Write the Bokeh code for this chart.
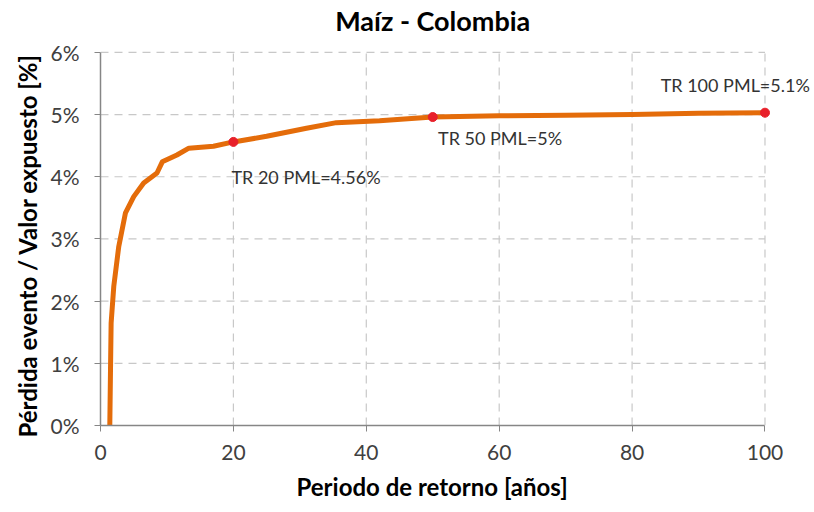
from bokeh.plotting import figure
from bokeh.models import FixedTicker, PrintfTickFormatter, Range1d, Label, Title
from bokeh.embed import file_html
from bokeh.resources import INLINE

# Loss curve (return period in years vs. loss / exposed value in %)
periodo = [1.4, 1.5, 1.6, 2.0, 2.75, 3.76, 5.0, 6.5, 8.5, 9.3, 11.5, 13.3, 17, 20,
           25, 31, 35.5, 42, 50, 60, 70, 80, 90, 100]
perdida = [0, 0.85, 1.65, 2.24, 2.88, 3.42, 3.68, 3.9, 4.06, 4.24, 4.35, 4.46, 4.49, 4.56,
           4.65, 4.78, 4.87, 4.9, 4.96, 4.98, 4.99, 5.0, 5.02, 5.03]

# Highlighted points
tr_x = [20, 50, 100]
tr_y = [4.56, 4.96, 5.03]
tr_text = ["TR 20 PML=4.56%", "TR 50 PML=5%", "TR 100 PML=5.1%"]
lab_x = [19.7, 50.8, 84.3]
lab_y = [4.0, 4.62, 5.47]

x_ticks = [0, 20, 40, 60, 80, 100]
y_ticks = [0, 1, 2, 3, 4, 5, 6]

titulo = "Maíz - Colombia"
x_titulo = "Periodo de retorno [años]"
y_titulo = "Pérdida evento / Valor expuesto [%]"

FONT = "Lato"

# frame is extended above the 6% line and right of 100 so that texts are not clipped
p = figure(width=814, height=512, output_backend="svg", toolbar_location=None,
           x_range=Range1d(0, 107), y_range=Range1d(0, 6.834),
           min_border_left=100, min_border_right=3, min_border_top=0, min_border_bottom=86)
p.outline_line_color = None

for ax in (p.xaxis[0], p.yaxis[0]):
    ax.axis_line_color = "#868686"
    ax.axis_line_width = 1.5
    ax.major_tick_line_color = "#868686"
    ax.major_tick_in = 0
    ax.major_tick_out = 6
    ax.minor_tick_line_color = None
    ax.major_label_text_font = FONT
    ax.major_label_text_font_size = "21px"
    ax.major_label_text_color = "#404040"

p.xaxis.bounds = (x_ticks[0], x_ticks[-1])
p.yaxis.bounds = (y_ticks[0], y_ticks[-1])
p.xaxis.ticker = FixedTicker(ticks=x_ticks)
p.yaxis.ticker = FixedTicker(ticks=y_ticks)
p.yaxis.formatter = PrintfTickFormatter(format="%d%%")
p.xaxis.major_label_standoff = 13
p.yaxis.major_label_standoff = 15

# axis titles
p.add_layout(Title(text=x_titulo, align="left", offset=196, vertical_align="top",
                   text_font=FONT, text_font_size="24px", text_font_style="bold",
                   text_color="#000000", standoff=19), "below")
p.add_layout(Title(text=y_titulo, align="left", offset=-12, vertical_align="bottom",
                   text_font=FONT, text_font_size="24px", text_font_style="bold",
                   text_color="#000000", standoff=12), "left")

GRID_COLOR = "#C8C8C8"
GRID_DASH = "8 6"
p.xgrid[0].grid_line_color = None
p.ygrid[0].grid_line_color = None

# grid lines, limited to the axis extent
n = len(y_ticks) - 1
p.segment(x0=[x_ticks[0]] * n, x1=[x_ticks[-1]] * n, y0=y_ticks[1:], y1=y_ticks[1:],
          line_color=GRID_COLOR, line_dash=GRID_DASH, line_width=1.2)
m = len(x_ticks) - 1
p.segment(x0=x_ticks[1:], x1=x_ticks[1:], y0=[y_ticks[0]] * m, y1=[y_ticks[-1]] * m,
          line_color=GRID_COLOR, line_dash=GRID_DASH, line_width=1.2)

p.line(periodo, perdida, line_color="#E46C0A", line_width=5, line_join="round")
p.scatter(tr_x, tr_y, size=9, fill_color="#E8202A", line_color="#E8202A")

for x, y, t in zip(lab_x, lab_y, tr_text):
    p.add_layout(Label(x=x, y=y, text=t, text_font=FONT, text_font_size="18px",
                       text_color="#333333", text_baseline="middle", text_align="left"))

# chart title, centred over the 0-100 axis
p.add_layout(Label(x=(x_ticks[0] + x_ticks[-1]) / 2, y=6.514, text=titulo, text_font=FONT,
                   text_font_size="27px", text_font_style="bold", text_color="#000000",
                   text_baseline="middle", text_align="center"))

open("out.html", "w").write(file_html(p, INLINE))
